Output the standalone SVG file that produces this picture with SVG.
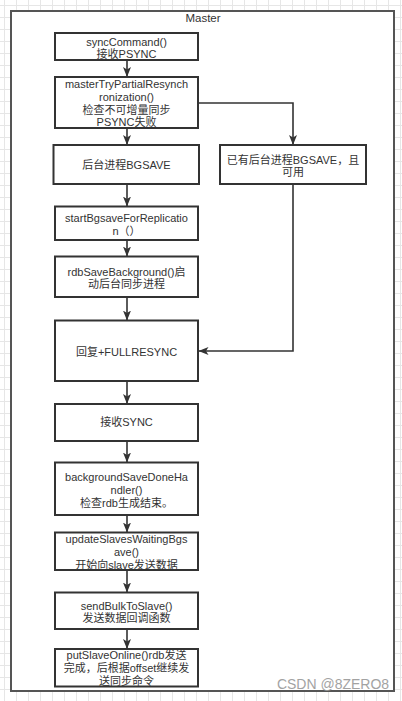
<svg xmlns="http://www.w3.org/2000/svg" width="402" height="701" viewBox="0 0 402 701">
<defs>
<pattern id="grid" x="4" y="5" width="12" height="12" patternUnits="userSpaceOnUse">
<path d="M0 0.5 H12 M0.5 0 V12" fill="none" stroke="#e6e6e6" stroke-width="1"/>
</pattern>
<marker id="arr" markerUnits="userSpaceOnUse" markerWidth="11" markerHeight="8" refX="10" refY="4" orient="auto">
<path d="M0,0 L10,4 L0,8 L2.5,4 Z" fill="#333"/>
</marker>
<style>
.box{fill:#fff;stroke:#333;stroke-width:2}
.t{font-family:"Liberation Sans","Noto Sans CJK SC",sans-serif;font-size:11px;fill:#333;text-anchor:middle}
.edge{fill:none;stroke:#333;stroke-width:1.6}
.frame{fill:#fff;stroke:#555;stroke-width:2}
</style>
</defs>
<rect width="402" height="701" fill="#fff"/>
<rect width="402" height="701" fill="url(#grid)"/>
<g id="master">
<rect class="frame" x="11" y="11" width="383" height="680"/>
<text class="t" x="203" y="22" style="font-size:11.5px">Master</text>
</g>
<g id="connectors">
<path class="edge" d="M127 60 V77" marker-end="url(#arr)"/>
<path class="edge" d="M127 128 V145" marker-end="url(#arr)"/>
<path class="edge" d="M198 103 H293 V145" marker-end="url(#arr)"/>
<path class="edge" d="M127 184 V206.5" marker-end="url(#arr)"/>
<path class="edge" d="M127 240 V256.5" marker-end="url(#arr)"/>
<path class="edge" d="M127 297 V320.5" marker-end="url(#arr)"/>
<path class="edge" d="M293 184 V351 H198.5" marker-end="url(#arr)"/>
<path class="edge" d="M127 381 V404" marker-end="url(#arr)"/>
<path class="edge" d="M127 441 V462.5" marker-end="url(#arr)"/>
<path class="edge" d="M127 515 V532.5" marker-end="url(#arr)"/>
<path class="edge" d="M127 570 V592.5" marker-end="url(#arr)"/>
<path class="edge" d="M127 629 V649" marker-end="url(#arr)"/>
</g>
<g id="n1">
<rect class="box" x="55" y="33" width="143" height="27"/>
<text class="t" x="126.5" y="46">syncCommand()</text>
<text class="t" x="126.5" y="58">接收PSYNC</text>
</g>
<g id="n2">
<rect class="box" x="55" y="77" width="143" height="51"/>
<text class="t" x="126.5" y="88">masterTryPartialResynch</text>
<text class="t" x="126.5" y="101">ronization()</text>
<text class="t" x="126.5" y="114">检查不可增量同步</text>
<text class="t" x="126.5" y="126">PSYNC失败</text>
</g>
<g id="n3">
<rect class="box" x="53.5" y="145" width="145.5" height="39"/>
<text class="t" x="126.5" y="169">后台进程BGSAVE</text>
</g>
<g id="n3b">
<rect class="box" x="220" y="145" width="146" height="39"/>
<text class="t" x="293" y="164">已有后台进程BGSAVE，且</text>
<text class="t" x="293" y="176">可用</text>
</g>
<g id="n4">
<rect class="box" x="55" y="206.5" width="143" height="33.5"/>
<text class="t" x="126.5" y="222">startBgsaveForReplicatio</text>
<text class="t" x="126.5" y="235">n（）</text>
</g>
<g id="n5">
<rect class="box" x="55" y="256.5" width="143" height="40.5"/>
<text class="t" x="126.5" y="276">rdbSaveBackground()启</text>
<text class="t" x="126.5" y="288">动后台同步进程</text>
</g>
<g id="n6">
<rect class="box" x="55" y="320.5" width="143" height="60.5"/>
<text class="t" x="126.5" y="356">回复+FULLRESYNC</text>
</g>
<g id="n7">
<rect class="box" x="55" y="404" width="143" height="37"/>
<text class="t" x="126.5" y="426">接收SYNC</text>
</g>
<g id="n8">
<rect class="box" x="55" y="462.5" width="143" height="52.5"/>
<text class="t" x="126.5" y="481">backgroundSaveDoneHa</text>
<text class="t" x="126.5" y="494">ndler()</text>
<text class="t" x="126.5" y="507">检查rdb生成结束。</text>
</g>
<g id="n9">
<rect class="box" x="55" y="532.5" width="143" height="37.5"/>
<text class="t" x="126.5" y="543">updateSlavesWaitingBgs</text>
<text class="t" x="126.5" y="556">ave()</text>
<text class="t" x="126.5" y="569">开始向slave发送数据</text>
</g>
<g id="n10">
<rect class="box" x="55" y="592.5" width="143" height="36.5"/>
<text class="t" x="126.5" y="610">sendBulkToSlave()</text>
<text class="t" x="126.5" y="622">发送数据回调函数</text>
</g>
<g id="n11">
<rect class="box" x="55" y="649" width="143" height="37.5"/>
<text class="t" x="126.5" y="659">putSlaveOnline()rdb发送</text>
<text class="t" x="126.5" y="672">完成，后根据offset继续发</text>
<text class="t" x="126.5" y="685">送同步命令</text>
</g>
<text x="333" y="689" style="font-family:'Liberation Sans','Noto Sans CJK SC',sans-serif;font-size:14px;fill:#999;text-anchor:middle;opacity:0.9">CSDN @8ZERO8</text>
</svg>
